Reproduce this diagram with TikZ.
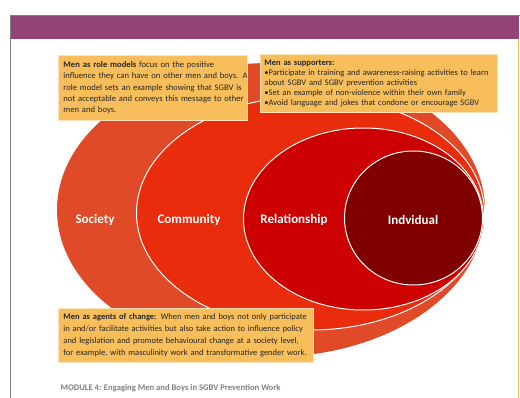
\documentclass[tikz,border=0pt]{standalone}
\usepackage{fontspec}
\setmainfont{Carlito}
\definecolor{purplebar}{RGB}{147,68,119}
\definecolor{soc}{RGB}{224,74,40}
\definecolor{com}{RGB}{232,44,12}
\definecolor{rel}{RGB}{204,0,0}
\definecolor{ind}{RGB}{128,0,0}
\definecolor{boxfill}{RGB}{248,190,92}
\newcommand{\bl}[1]{\mbox{#1}}
\tikzset{
  infobox/.style={fill=boxfill, draw=white!55!boxfill, line width=0.9pt, anchor=north west,
    inner ysep=0pt, align=left, text=black!85},
  ringlabel/.style={text=white, font=\bfseries\fontsize{13}{15}\selectfont},
  ring/.style={draw=white, line width=1pt}
}
\begin{document}
\begin{tikzpicture}[x=1pt,y=-1pt]
\useasboundingbox (0,0) rectangle (520,398);
\fill[white] (0,0) rectangle (520,398);
% page frame
\draw[gray, line width=1pt] (10.5,398) -- (10.5,15.5) -- (520,15.5);
\fill[purplebar] (11,16) rectangle (519,39);
\draw[boxfill, line width=1.2pt] (518.5,39) -- (518.5,398);
% ellipses
\fill[soc] (271,210) ellipse [x radius=214pt, y radius=147pt];
\filldraw[fill=com, ring] (310.5,213) ellipse [x radius=174pt, y radius=117pt];
\filldraw[fill=rel, ring] (363.5,219) ellipse [x radius=120pt, y radius=91pt];
\filldraw[fill=ind, ring] (413.5,218) ellipse [x radius=69pt, y radius=67pt];
% labels
\node[ringlabel] (society) at (95,220) {Society};
\node[ringlabel] (community) at (189,220) {Community};
\node[ringlabel] (relationship) at (294,220) {Relationship};
\node[ringlabel] (individual) at (413,220) {Indvidual};
% boxes
\node[infobox, inner xsep=5pt, text width=179pt, minimum height=65pt,
  font=\fontsize{8.6}{11.3}\selectfont] (roles) at (58,55)
  {\bl{\textbf{Men as role models} focus on the positive}\\
   \bl{influence they can have on other men and boys. A}\\
   \bl{role model sets an example showing that SGBV is}\\
   \bl{not acceptable and conveys this message to other}\\
   \bl{men and boys.}};
\node[infobox, inner xsep=4pt, text width=229pt, minimum height=58pt,
  font=\fontsize{8.5}{9.8}\selectfont] (supporters) at (260,54)
  {\bl{\textbf{Men as supporters:}}\\
   \bl{•Participate in training and awareness-raising activities to learn}\\
   \bl{about SGBV and SGBV prevention activities}\\
   \bl{•Set an example of non-violence within their own family}\\
   \bl{•Avoid language and jokes that condone or encourage SGBV}};
\node[infobox, inner xsep=5pt, text width=245pt, minimum height=54pt,
  font=\fontsize{8.5}{12}\selectfont] (agents) at (58,308)
  {\bl{\textbf{Men as agents of change:} When men and boys not only participate}\\
   \bl{in and/or facilitate activities but also take action to influence policy}\\
   \bl{and legislation and promote behavioural change at a society level,}\\
   \bl{for example, with masculinity work and transformative gender work.}};
% footer
\node[anchor=west, text=black!50, font=\bfseries\fontsize{8.6}{10}\selectfont] (footer) at (57,388)
  {MODULE 4: Engaging Men and Boys in SGBV Prevention Work};
\end{tikzpicture}
\end{document}
